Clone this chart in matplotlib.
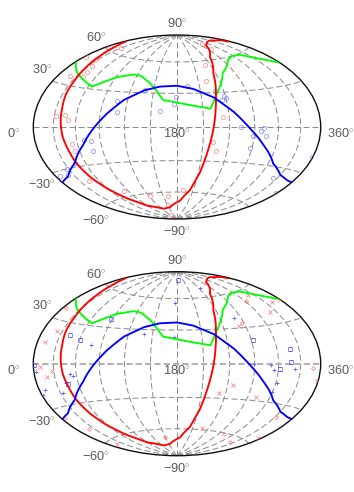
import numpy as np, matplotlib
matplotlib.use('Agg')
import matplotlib.pyplot as plt

plt.rcParams['mathtext.fontset'] = 'custom'
plt.rcParams['mathtext.rm'] = 'Liberation Sans'

top_red_lon = [32,44,50,20,40,39,35,5,24,2,28,52,53,44,83,121,161,151,124,192,222,227,233,221,230,281,283]
top_red_lat = [8,9,5,36,38,42,47,50,52,62,65,-13,-18,-42,-55,-63,-64,-73,-85,-58,-13,-21,9,41,56,70,76]
top_blue_lon = [7,28,22,46,70,78,77,107,110,139,160,176,179,194,229,239,240,234,254,269,278,281,285,268,322,357,359]
top_blue_lat = [-33,-30,-34,-27,-10,-11,-19,22,13,33,14,20,27,37,31,27,25,23,0,-7,-3,-1,-7,-17,-38,-46,-19]

red_lon = [3,15,23,29,33,35,38,40,42,45,47,52,59,70,88,126,154,188,204,212,217,221,225,228,236,252,284,310,329,354,357]
red_lat = [69,63,55,45,35,24,15,4,-7,-17,-27,-39,-50,-61,-71,-77,-76,-69,-58,-41,-20,-3,15,26,47,63,74,76,76,72,69]
green_lon = [2,24,46,65,91,114,127,143,154,163,219,230,251,281,298,316,358]
green_lat = [45,40,36,32,42,46,45,39,32,24,16,29,47,58,60,59,45]
blue_lon = [1,19,45,67,83,98,115,137,157,180,201,225,246,264,283,307,330,349,359]
blue_lat = [-37,-35,-27,-14,-1,11,23,32,36,37,34,26,13,-1,-14,-28,-35,-37,-37]

bot_x_lon = [10,27,19,12,22,18,228,354,281,232,247,358,262,320,320,342,358]
bot_x_lat = [-2,-5,-9,14,23,-64,-58,-55,-27,-25,-18,-11,32,55,39,45,44]
bot_d_lon = [5,7,20,150,281,320,332,349,267,301]
bot_d_lat = [38,-37,-49,-68,-61,-65,-39,-3,34,51]
bot_p_lon = [4,10,1,34,52,56,77,139,176,177,243,260,269,290,294,322,302,299,43]
bot_p_lat = [-5,-17,-20,-21,-8,-9,15,26,24,56,70,39,0,-1,-5,-4,-15,-22,-14]
bot_s_lon = [1,44,60,89,46,185,272,318,317,302]
bot_s_lat = [-1,21,18,37,-15,80,19,11,1,-4]

tick_labels = ['90$^{\\circ}$','60$^{\\circ}$','30$^{\\circ}$','0$^{\\circ}$','180$^{\\circ}$','360$^{\\circ}$',
               '\u221230$^{\\circ}$','\u221260$^{\\circ}$','\u221290$^{\\circ}$']
# label offsets from the map centre, in map widths / heights
label_dx = [0,-0.282,-0.47,-0.567,0,0.569,-0.47,-0.282,0]
label_dy = [0.56,0.485,0.315,-0.035,-0.035,-0.035,-0.315,-0.506,-0.57]

W, H = 354, 492
L, AW, AH = 33.3, 287.4, 184.0

def P(lon, lat):
    return np.radians(np.asarray(lon, float) - 180), np.radians(np.asarray(lat, float))

def panel(top, thick_equator=False):
    ax = plt.axes([L/W, 1-(top+AH)/H, AW/W, AH/H], projection='hammer')
    ax.set_aspect('auto')
    ax.set_longitude_grid(30)
    ax.set_latitude_grid(30)
    ax.set_longitude_grid_ends(90)
    ax.grid(True, color='#8c8c8c', lw=0.72, linestyle=(0, (6, 3)))
    ax.set_xticklabels([]); ax.set_yticklabels([])
    ax.tick_params(length=0)
    if thick_equator:
        line = ax.yaxis.get_gridlines()[2]
        line.set_linewidth(1.4); line.set_color('#b0b0b0'); line.set_linestyle((0, (3.2, 1.6)))
    for s in ax.spines.values():
        s.set_linewidth(1.0); s.set_edgecolor('#101010')
    for t, dx, dy in zip(tick_labels, label_dx, label_dy):
        ax.text(0.5+dx, 0.5+dy, t, transform=ax.transAxes, ha='center', va='center',
                fontsize=9.2, color='#5a5a5a', family='Liberation Sans', clip_on=False)
    return ax

def curves(ax):
    ax.plot(*P(green_lon, green_lat), color='#00ff00', lw=1.35, zorder=5)
    ax.plot(*P(red_lon, red_lat), color='#ff0000', lw=1.35, zorder=6)
    ax.plot(*P(blue_lon, blue_lat), color='#0000ff', lw=1.35, zorder=7)

fig = plt.figure(figsize=(W/100, H/100), dpi=100, facecolor='white')

ax = panel(35.0)
ax.plot(*P(top_red_lon, top_red_lat), ls='none', marker='o', ms=3.0, mfc='none', mec='#ff8080', mew=0.5, zorder=4)
ax.plot(*P(top_blue_lon, top_blue_lat), ls='none', marker='o', ms=3.0, mfc='none', mec='#8080ff', mew=0.5, zorder=4)
curves(ax)

ax = panel(271.7, thick_equator=True)
ax.plot(*P(bot_x_lon, bot_x_lat), ls='none', marker='x', ms=3.0, mec='#ff7070', mew=0.5, zorder=4)
ax.plot(*P(bot_d_lon, bot_d_lat), ls='none', marker='D', ms=2.0, mfc='none', mec='#ff7070', mew=0.5, zorder=4)
ax.plot(*P(bot_p_lon, bot_p_lat), ls='none', marker='+', ms=3.4, mec='#6060ff', mew=0.5, zorder=4)
ax.plot(*P(bot_s_lon, bot_s_lat), ls='none', marker='s', ms=3.0, mfc='none', mec='#6060ff', mew=0.5, zorder=4)
curves(ax)

fig.savefig('out.png', dpi=100)
